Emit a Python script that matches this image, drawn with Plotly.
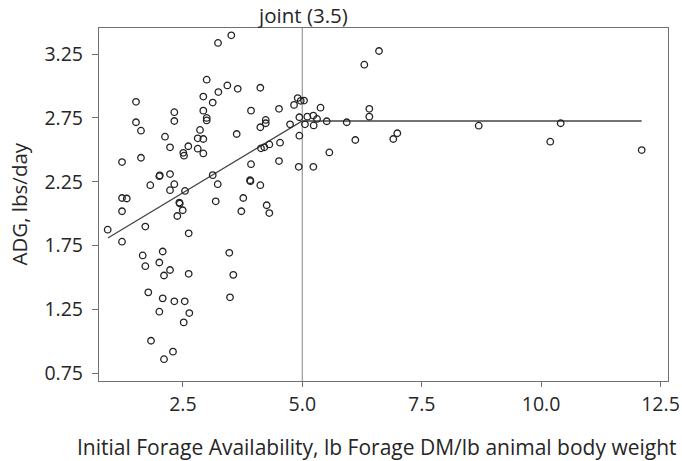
import plotly.graph_objects as go

# Observed data (Initial forage availability, lb forage DM / lb BW  vs  ADG, lbs/day)
forage = [2.998, 1.518, 2.320, 2.927, 2.927, 1.518, 1.622, 2.320, 2.998, 2.998,
          2.810, 2.125, 2.927, 2.230, 2.613, 2.810, 2.927, 2.508, 2.523, 1.225,
          1.622, 2.006, 2.016, 2.230, 1.817, 2.320, 2.230, 2.544, 1.225, 1.324,
          1.225, 2.425, 2.434, 2.496, 2.383, 0.925, 1.713, 2.621, 1.225, 1.658,
          2.077, 1.713, 2.006, 2.230, 2.104, 2.621, 1.775, 2.077, 2.320, 2.538,
          2.006, 2.634, 2.517, 1.832, 2.292, 2.104, 3.235, 3.513, 3.242, 3.430,
          3.648, 4.121, 3.124, 3.926, 4.512, 2.858, 4.234, 4.234, 4.121, 4.743,
          4.827, 4.904, 4.967, 5.036, 4.938, 5.105, 5.231, 5.308, 5.056, 5.238,
          3.626, 4.938, 4.135, 4.205, 4.309, 4.534, 5.381, 3.926, 4.512, 4.925,
          5.231, 3.124, 3.229, 3.905, 3.914, 4.121, 3.187, 3.764, 3.723, 4.254,
          4.309, 3.471, 3.555, 3.486, 6.606, 6.298, 6.403, 6.403, 5.511, 5.930,
          6.110, 6.905, 6.989, 5.566, 8.694, 10.410, 10.192, 12.106]
adg = [3.049, 2.876, 2.795, 2.917, 2.807, 2.716, 2.650, 2.726, 2.750, 2.730,
       2.590, 2.603, 2.585, 2.520, 2.528, 2.509, 2.472, 2.477, 2.454, 2.404,
       2.438, 2.294, 2.300, 2.310, 2.223, 2.231, 2.184, 2.178, 2.123, 2.119,
       2.019, 2.087, 2.080, 2.027, 1.982, 1.875, 1.899, 1.846, 1.781, 1.673,
       1.704, 1.589, 1.618, 1.559, 1.516, 1.529, 1.384, 1.337, 1.314, 1.314,
       1.233, 1.222, 1.149, 1.005, 0.920, 0.861, 3.337, 3.397, 2.952, 3.004,
       2.978, 2.986, 2.870, 2.807, 2.821, 2.656, 2.734, 2.708, 2.677, 2.700,
       2.852, 2.905, 2.884, 2.886, 2.755, 2.760, 2.768, 2.742, 2.700, 2.691,
       2.624, 2.611, 2.512, 2.520, 2.542, 2.556, 2.830, 2.388, 2.412, 2.367,
       2.367, 2.302, 2.231, 2.262, 2.255, 2.223, 2.097, 2.123, 2.019, 2.066,
       2.005, 1.694, 1.521, 1.345, 3.274, 3.167, 2.821, 2.760, 2.724, 2.716,
       2.577, 2.585, 2.630, 2.480, 2.689, 2.708, 2.564, 2.498]

# Segmented (broken-stick) fit
fit_x = [0.929, 5.0, 12.106]
fit_y = [1.81, 2.726, 2.726]
joint_x = 5.0
joint_label = "joint (3.5)"
x_title = "Initial Forage Availability, lb Forage DM/lb animal body weight"
y_title = "ADG, lbs/day"

x_ticks = [2.5, 5.0, 7.5, 10.0, 12.5]
x_ticklabels = ["2.5", "5.0", "7.5", "10.0", "12.5"]
y_ticks = [0.75, 1.25, 1.75, 2.25, 2.75, 3.25]
y_ticklabels = ["0.75", "1.25", "1.75", "2.25", "2.75", "3.25"]

FONT = "Open Sans"
TXT = "#262626"
FRAME = "#707070"

fig = go.Figure()
fig.add_trace(go.Scatter(
    x=fit_x, y=fit_y, mode="lines",
    line=dict(color="#444444", width=1.3), hoverinfo="skip", showlegend=False))
fig.add_trace(go.Scatter(
    x=forage, y=adg, mode="markers",
    marker=dict(symbol="circle-open", size=6.5, color="#222222",
                line=dict(width=1.3, color="#222222")),
    showlegend=False))

fig.add_shape(type="line", x0=joint_x, x1=joint_x, y0=0, y1=1, yref="paper",
              line=dict(color="#9a9a9a", width=1.2), layer="below")
fig.add_annotation(x=joint_x, y=1, yref="paper", yanchor="middle", yshift=13,
                   text=joint_label, showarrow=False, borderpad=0,
                   font=dict(family=FONT, size=20.5, color=TXT))
# axis titles
fig.add_annotation(x=0.5, xref="paper", y=0, yref="paper", xshift=-7,
                   yanchor="middle", yshift=-66, text=x_title, showarrow=False,
                   borderpad=0, font=dict(family=FONT, size=21, color=TXT))
fig.add_annotation(x=0, xref="paper", y=0.5, yref="paper", xanchor="center",
                   xshift=-81, textangle=-90, text=y_title, showarrow=False,
                   borderpad=0, font=dict(family=FONT, size=20.5, color=TXT))

fig.update_layout(
    width=682, height=461,
    margin=dict(l=99, r=14, t=28, b=80, autoexpand=False),
    paper_bgcolor="white", plot_bgcolor="white",
    font=dict(family=FONT, size=19, color=TXT),
    xaxis=dict(
        range=[0.743, 12.657], tickvals=x_ticks, ticktext=x_ticklabels,
        automargin=False,
        showgrid=False, zeroline=False, showline=True, mirror=True,
        linecolor=FRAME, linewidth=1.2,
        ticks="outside", ticklen=5, tickcolor=FRAME, ticklabelstandoff=0,
        tickfont=dict(family=FONT, size=19.5, color=TXT)),
    yaxis=dict(
        range=[0.690, 3.454], tickvals=y_ticks, ticktext=y_ticklabels,
        automargin=False,
        showgrid=False, zeroline=False, showline=True, mirror=True,
        linecolor=FRAME, linewidth=1.2,
        ticks="outside", ticklen=6, tickcolor=FRAME, ticklabelstandoff=5,
        tickfont=dict(family=FONT, size=19.5, color=TXT)),
)

# remove the page's default 8px body margin so the figure fills the window exactly
fig.write_html("out.html", config={"displayModeBar": False},
               post_script="document.body.style.margin='0';")
